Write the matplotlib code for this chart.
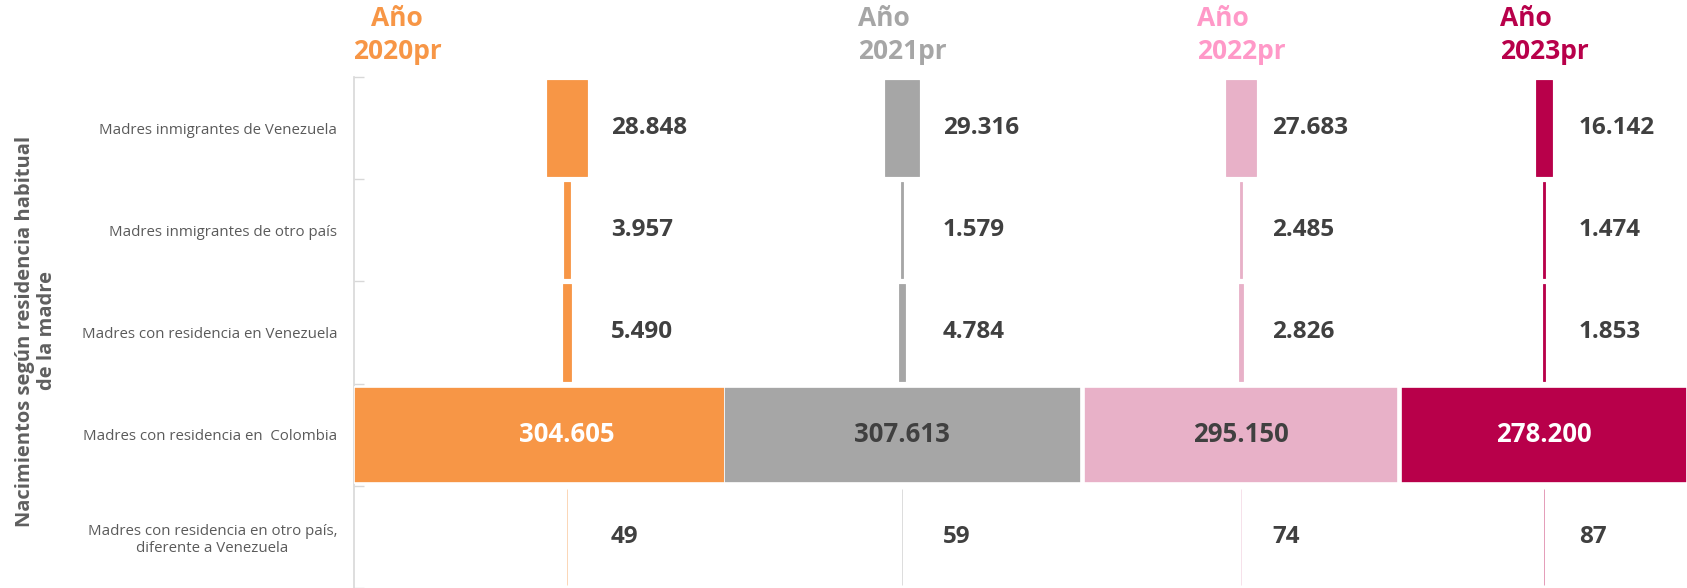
import matplotlib
matplotlib.use('Agg')
import matplotlib.pyplot as plt

plt.rcParams.update({'font.family': ['Open Sans', 'DejaVu Sans']})

# ── Data ──
categories = [
    'Madres inmigrantes de Venezuela',
    'Madres inmigrantes de otro país',
    'Madres con residencia en Venezuela',
    'Madres con residencia en  Colombia',
    'Madres con residencia en otro país,\ndiferente a Venezuela',
]
years = ['Año\n2020pr', 'Año\n2021pr', 'Año\n2022pr', 'Año\n2023pr']
v2020 = [28848, 3957, 5490, 304605, 49]
v2021 = [29316, 1579, 4784, 307613, 59]
v2022 = [27683, 2485, 2826, 295150, 74]
v2023 = [16142, 1474, 1853, 278200, 87]
series = [v2020, v2021, v2022, v2023]
labels = [['28.848', '3.957', '5.490', '304.605', '49'],
          ['29.316', '1.579', '4.784', '307.613', '59'],
          ['27.683', '2.485', '2.826', '295.150', '74'],
          ['16.142', '1.474', '1.853', '278.200', '87']]

bar_colors = ['#F79646', '#A6A6A6', '#E8B1C8', '#B8004A']
title_colors = ['#F79646', '#A6A6A6', '#FF99C8', '#B8004A']
big_label_colors = ['white', '#404040', '#404040', 'white']

W, H = 1687, 588
fig = plt.figure(figsize=(W / 100, H / 100), dpi=100)
top_px = 77

def fx(px): return px / W
def fy(px): return 1 - px / H

# ── Category axis ──
ax0 = fig.add_axes([fx(354), 0, fx(W - 354), fy(top_px)])
ax0.patch.set_visible(False)
ax0.set_ylim(len(categories) - 0.5, -0.5)
ax0.set_xlim(0, 1)
ax0.set_xticks([])
ax0.set_yticks(range(len(categories)))
ax0.set_yticklabels(categories, fontsize=10.8, color='#5A5A5A')
for t in ax0.get_yticklabels():
    t.set_multialignment('center')
ax0.set_yticks([i - 0.5 for i in range(len(categories) + 1)], minor=True)
ax0.tick_params(axis='y', which='major', length=0, pad=12)
ax0.tick_params(axis='y', which='minor', length=7, direction='in', color='#D8D8D8', width=1)
for s in ['top', 'right', 'bottom']:
    ax0.spines[s].set_visible(False)
ax0.spines['left'].set_color('#D8D8D8')
ax0.spines['left'].set_linewidth(1.2)

fig.text(fx(36), fy(331), 'Nacimientos según residencia habitual\nde la madre',
         rotation=90, ha='center', va='center', multialignment='center',
         fontsize=14.5, fontweight='bold', color='#5F5F5F', linespacing=1.15)

# ── Year columns (centred bars) ──
centers = [567, 902, 1241, 1544]
half_w = [213, 178.5, 157, 143]
label_off = [44, 41, 31, 35]
title_x = [397, 858, 1197, 1500]
title_ha = ['center', 'left', 'left', 'left']
big_row = 3

for k, vals in enumerate(series):
    ax = fig.add_axes([fx(centers[k] - half_w[k]), 0, fx(2 * half_w[k]), fy(top_px)])
    ax.patch.set_visible(False)
    ax.axis('off')
    vmax = max(vals)
    ax.set_xlim(-vmax / 2, vmax / 2)
    ax.set_ylim(len(categories) - 0.5, -0.5)
    for i, v in enumerate(vals):
        if i == big_row:
            ax.barh(i, v, left=-v / 2, height=0.94, color=bar_colors[k],
                    edgecolor='white', linewidth=1.2)
            ax.text(0, i, labels[k][i], ha='center', va='center', fontsize=18.5,
                    fontweight='bold', color=big_label_colors[k])
        else:
            faint = v < 1000
            ax.barh(i, v, left=-v / 2, height=0.94, color=bar_colors[k],
                    edgecolor=bar_colors[k], linewidth=0.6,
                    alpha=0.45 if faint else 1)
            ax.annotate(labels[k][i], xy=(0, i), xytext=(label_off[k] * 0.72, 0),
                        textcoords='offset points', ha='left', va='center',
                        fontsize=17.5, fontweight='bold', color='#404040')
    fig.text(fx(title_x[k]), fy(5), years[k], ha=title_ha[k], va='top',
             multialignment=title_ha[k], fontsize=19, fontweight='bold',
             color=title_colors[k], linespacing=1.3)

fig.savefig('out.png', dpi=100, facecolor='white')
